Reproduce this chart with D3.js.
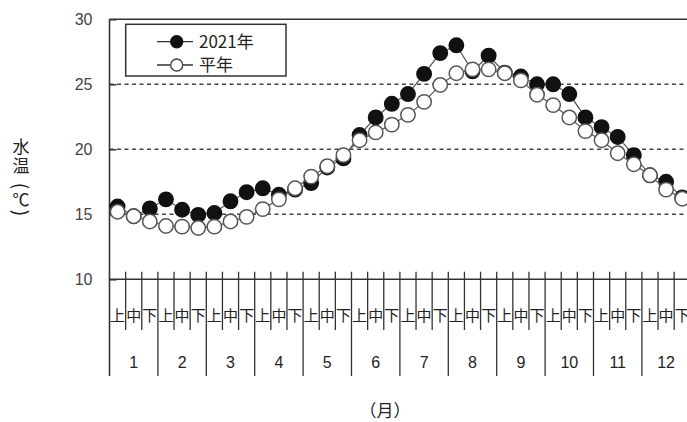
<!DOCTYPE html>
<html>
<head>
<meta charset="utf-8">
<script src="https://cdn.jsdelivr.net/npm/d3@7"></script>
<style>
  body { margin: 0; background: #fff; overflow: hidden; }
  svg { display: block; }
</style>
</head>
<body>
<script>
// 旬別水温 (上旬・中旬・下旬 x 12か月)
var months = [1, 2, 3, 4, 5, 6, 7, 8, 9, 10, 11, 12];
var dekadNames = ["上", "中", "下"];
var yTicks = [10, 15, 20, 25, 30];
var gridValues = [15, 20, 25];

var temp2021 = [15.6, 14.85, 15.45, 16.15, 15.35, 14.95, 15.1, 16.0, 16.7,
                17.0, 16.5, 16.9, 17.4, 18.6, 19.3, 21.1, 22.45, 23.5,
                24.25, 25.8, 27.4, 28.0, 26.0, 27.2, 25.9, 25.6, 25.0,
                25.0, 24.25, 22.45, 21.7, 20.95, 19.55, 18.0, 17.5, 16.3];
var tempNormal = [15.2, 14.85, 14.45, 14.1, 14.05, 13.95, 14.05, 14.45, 14.8,
                  15.4, 16.15, 17.0, 17.9, 18.7, 19.55, 20.7, 21.3, 21.9,
                  22.65, 23.65, 24.95, 25.85, 26.15, 26.15, 25.85, 25.3, 24.2,
                  23.4, 22.45, 21.4, 20.7, 19.7, 18.85, 18.0, 16.9, 16.2];

var W = 687, H = 422;
var plotLeft = 109.5, plotRight = 690.3, plotTop = 19.3, plotBase = 279.3;

var svg = d3.select("body").append("svg")
    .attr("width", W)
    .attr("height", H);

var x = d3.scaleLinear().domain([0, 36]).range([plotLeft, plotRight]);
var y = d3.scaleLinear().domain([10, 30]).range([plotBase, plotTop]);

var ink = "#333";
var sans = "'Liberation Sans', Arial, sans-serif";
var cjk = "'Noto Sans CJK JP', sans-serif";

//grid lines
svg.append("g").selectAll("line")
    .data(gridValues)
    .enter().append("line")
    .attr("x1", plotLeft).attr("x2", W)
    .attr("y1", function(d) { return y(d); })
    .attr("y2", function(d) { return y(d); })
    .attr("stroke", "#444")
    .attr("stroke-width", 1.6)
    .attr("stroke-dasharray", "4,3.5");

//y axis
var yAxis = d3.axisLeft(y)
    .tickValues(yTicks)
    .tickSizeInner(-7)
    .tickSizeOuter(0)
    .tickPadding(17);

var yg = svg.append("g")
    .attr("transform", "translate(" + plotLeft + ",0)")
    .call(yAxis);
yg.select(".domain").remove();
yg.selectAll(".tick line").attr("stroke", ink).attr("stroke-width", 1.5);
yg.selectAll(".tick text")
    .attr("fill", "#444")
    .style("font-family", sans)
    .style("font-size", "16px");

//frame: top line, axis line, baseline at 10
svg.append("line")
    .attr("x1", plotLeft).attr("x2", W)
    .attr("y1", plotTop).attr("y2", plotTop)
    .attr("stroke", ink).attr("stroke-width", 1.6);
svg.append("line")
    .attr("x1", plotLeft).attr("x2", plotLeft)
    .attr("y1", plotTop).attr("y2", 376)
    .attr("stroke", ink).attr("stroke-width", 1.6);
svg.append("line")
    .attr("x1", plotLeft).attr("x2", W)
    .attr("y1", plotBase).attr("y2", plotBase)
    .attr("stroke", ink).attr("stroke-width", 1.4);

//dekad labels 上中下
var dekads = d3.range(36);
svg.append("g").selectAll("text")
    .data(dekads)
    .enter().append("text")
    .attr("x", function(d) { return x(d + 0.5); })
    .attr("y", 321)
    .attr("text-anchor", "middle")
    .style("font-family", cjk)
    .style("font-size", "15px")
    .attr("fill", "#222")
    .text(function(d) { return dekadNames[d % 3]; });

//dekad ticks
svg.append("g").selectAll("line")
    .data(dekads.filter(function(d) { return d % 3 != 0; }))
    .enter().append("line")
    .attr("x1", function(d) { return x(d); })
    .attr("x2", function(d) { return x(d); })
    .attr("y1", 271.7).attr("y2", 330)
    .attr("stroke", ink).attr("stroke-width", 1.3);

//month separators
svg.append("g").selectAll("line")
    .data(months)
    .enter().append("line")
    .attr("x1", function(d) { return x(d * 3); })
    .attr("x2", function(d) { return x(d * 3); })
    .attr("y1", 271.7).attr("y2", 376)
    .attr("stroke", ink).attr("stroke-width", 1.3);

//month labels
svg.append("g").selectAll("text")
    .data(months)
    .enter().append("text")
    .attr("x", function(d) { return x(d * 3 - 1.5); })
    .attr("y", 368)
    .attr("text-anchor", "middle")
    .style("font-family", sans)
    .style("font-size", "16px")
    .attr("fill", "#222")
    .text(function(d) { return d; });

//lines and markers
var line = d3.line()
    .x(function(d, i) { return x(i + 0.5); })
    .y(function(d) { return y(d); });

function drawSeries(values, fill) {
    var g = svg.append("g");
    g.append("path")
        .attr("d", line(values))
        .attr("fill", "none")
        .attr("stroke", "#555")
        .attr("stroke-width", 1.2);
    g.selectAll("circle")
        .data(values)
        .enter().append("circle")
        .attr("cx", function(d, i) { return x(i + 0.5); })
        .attr("cy", function(d) { return y(d); })
        .attr("r", 7.2)
        .attr("fill", fill)
        .attr("stroke", fill == "#fff" ? "#555" : "#111")
        .attr("stroke-width", 1.5);
}
drawSeries(temp2021, "#111");
drawSeries(tempNormal, "#fff");

//legend
var legend = svg.append("g");
legend.append("rect")
    .attr("x", 125.7).attr("y", 24.3)
    .attr("width", 160.3).attr("height", 51.7)
    .attr("fill", "#fff")
    .attr("stroke", ink).attr("stroke-width", 1.5);
var legendItems = [
    {name: "2021年", fill: "#111"},
    {name: "平年", fill: "#fff"}
];
legendItems.forEach(function(item, i) {
    var ly = 41.7 + i * 23.3;
    legend.append("line")
        .attr("x1", 157).attr("x2", 193)
        .attr("y1", ly).attr("y2", ly)
        .attr("stroke", "#333").attr("stroke-width", 1.3);
    legend.append("circle")
        .attr("cx", 176.7).attr("cy", ly).attr("r", 6)
        .attr("fill", item.fill)
        .attr("stroke", item.fill == "#fff" ? "#444" : "#111")
        .attr("stroke-width", 1.4);
    legend.append("text")
        .attr("x", 199).attr("y", ly)
        .attr("dy", "0.36em")
        .style("font-family", cjk)
        .style("font-size", "17px")
        .attr("fill", "#222")
        .text(item.name);
});

//y title, stacked vertically; brackets turned sideways
var yTitle = [
    {t: "水", y: 147, rot: 0},
    {t: "温", y: 166, rot: 0},
    {t: "(", y: 186, rot: 90},
    {t: "℃", y: 200, rot: 0},
    {t: ")", y: 213, rot: 90}
];
svg.append("g").selectAll("text")
    .data(yTitle)
    .enter().append("text")
    .attr("transform", function(d) {
        return "translate(21," + d.y + ") rotate(" + d.rot + ")";
    })
    .attr("dy", "0.36em")
    .attr("text-anchor", "middle")
    .style("font-family", cjk)
    .style("font-size", function(d) { return d.rot ? "19px" : "17px"; })
    .attr("fill", "#222")
    .text(function(d) { return d.t; });

//x title
svg.append("text")
    .attr("x", 385).attr("y", 411)
    .attr("dy", "0.36em")
    .attr("text-anchor", "middle")
    .style("font-family", cjk)
    .style("font-size", "17px")
    .attr("fill", "#222")
    .text("（月）");
</script>
</body>
</html>
